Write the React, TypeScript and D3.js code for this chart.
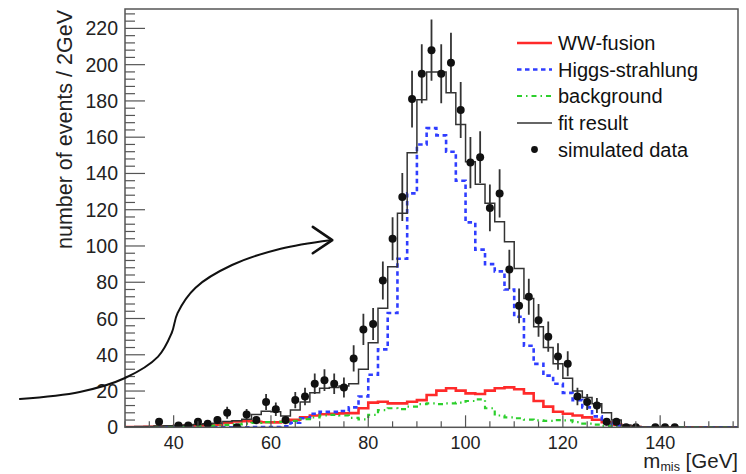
import React from "react";
import * as d3 from "d3";

// ---- histogram binning (2 GeV bins from 30 to 156 GeV) ----
const binStart = 30;
const binEnd = 156;
const binWidth = 2;

// per-bin contents, bin i covers [30 + 2i, 32 + 2i]
const wwFusion = [
  0.2, 0.2, 0.3, 0.4, 0.5, 0.7, 0.8, 1.0, 1.2, 1.5,
  2.5, 3.2, 3.3, 3.0, 2.8, 2.7, 3.0, 4.2, 5.5, 6.5,
  7.2, 7.5, 7.7, 7.8, 10.5, 13.6, 14.1, 13.2, 13.2, 14.1,
  15, 17.8, 20.2, 21.5, 20.2, 18.7, 18.4, 20.2, 21.5, 22,
  21, 18.7, 14.5, 11.4, 8.6, 7.5, 6.5, 5.5, 4.2, 2.8,
  1.5, 0.6, 0.2, 0, 0, 0, 0, 0, 0, 0, 0, 0, 0,
];
const higgsStrahlung = [
  0, 0, 0, 0, 0, 0, 0, 0, 0, 0,
  0, 0, 0, 0.1, 0.1, 0.2, 0.5, 2.5, 5, 7.5,
  8.5, 8.5, 9, 11, 17, 29, 43, 63, 93, 129,
  156, 165, 161, 152, 136, 113, 98, 90, 86, 76,
  61, 45, 35, 28.5, 24, 19, 15, 11, 6, 2.5,
  1, 0.3, 0, 0, 0, 0, 0, 0, 0, 0, 0, 0, 0,
];
const background = [
  0.1, 0.1, 0.2, 0.3, 0.4, 0.5, 0.6, 0.7, 0.8, 1.0,
  1.3, 1.6, 2.0, 2.4, 2.8, 3.0, 3.0, 3.5, 4.5, 5.5,
  6.5, 6.8, 6.5, 5.2, 4.4, 6.8, 9.5, 10.5, 10, 11.4,
  12.8, 13.2, 12.8, 13.2, 13.6, 14.5, 15.4, 10.5, 6.5, 5.5,
  5, 4.2, 3.8, 3.5, 4, 3.8, 2.8, 2, 1.5, 0.8,
  0.3, 0.1, 0, 0, 0, 0, 0, 0, 0, 0, 0, 0, 0,
];
const fitResult = [
  0.3, 0.4, 0.5, 0.7, 0.9, 1.1, 1.3, 1.6, 1.9, 2.3,
  3.2, 3.6, 4.5, 7, 8.8, 8.6, 6.3, 9.5, 14, 19,
  21.5, 22, 22.8, 24, 32, 46.6, 65.6, 88.5, 118, 151.4,
  180.6, 196, 196, 184.5, 167, 146.4, 134, 123.5, 113.3, 102.3,
  87.6, 71.1, 55.5, 44, 35, 27, 20, 16.5, 13, 8,
  4, 1.3, 0.4, 0.1, 0, 0, 0, 0, 0, 0, 0, 0, 0,
];

// simulated data points (bin centre, count, error)
const dataCenters = [
  37, 41, 43, 45, 47, 49, 51, 53, 55, 57, 59, 61, 63, 65, 67, 69, 71, 73, 75,
  77, 79, 81, 83, 85, 87, 89, 91, 93, 95, 97, 99, 101, 103, 105, 107, 109,
  111, 113, 115, 117, 119, 121, 123, 125, 127, 129, 131, 133, 135, 139, 141, 143,
];
const dataCounts = [
  3, 1, 1, 3, 2, 4, 8, 0, 7, 4, 14, 10, 4, 15, 17, 24, 26, 24, 22,
  38, 54, 57, 81, 104, 127, 181, 195, 208, 195, 201, 175, 146, 149, 121, 129, 87,
  67, 72, 59, 50, 39, 35, 17, 14, 12, 3, 3, 0, 0, 0, 0, 0,
];
const dataErrors = [
  2.0, 1.2, 1.2, 2.0, 1.7, 2.3, 3.3, 0, 3.1, 2.3, 4.4, 3.7, 2.3, 4.5, 4.8, 5.7, 6.0, 5.7, 5.5,
  7.2, 8.6, 8.8, 10.5, 11.9, 13.2, 15.7, 16.3, 16.9, 16.3, 16.6, 15.5, 14.1, 14.3, 12.9, 13.3, 10.9,
  9.6, 9.9, 9.0, 8.3, 7.3, 6.9, 4.8, 4.4, 4.1, 2.0, 2.0, 0, 0, 0, 0, 0,
];

const xTicks = [40, 60, 80, 100, 120, 140];
const yTicks = [0, 20, 40, 60, 80, 100, 120, 140, 160, 180, 200, 220];
const yMax = 230.7;

const legendLabels = ["WW-fusion", "Higgs-strahlung", "background", "fit result", "simulated data"];

// hand-drawn annotation arrow, in data units (m, events)
const arrowCurve: [number, number][] = [
  [8.4, 15.6], [20.7, 19.5], [30, 27.2], [36.8, 39], [39.6, 52],
  [40.8, 63], [44.5, 77], [52, 89.5], [62, 98.5], [72.2, 103.2],
];
const arrowHead: [number, number][] = [[68.6, 110.5], [72.6, 103.2], [68.6, 96]];

const FONT = "'Liberation Sans', Arial, Helvetica, sans-serif";

export default function App() {
  const W = 746;
  const H = 474;
  const left = 125;
  const right = 738;
  const top = 9;
  const bottom = 427.3;

  const x = d3.scaleLinear().domain([binStart, binEnd]).range([left, right]);
  const y = d3.scaleLinear().domain([0, yMax]).range([bottom, top]);

  const step = d3
    .line<[number, number]>()
    .x((d) => x(d[0]))
    .y((d) => y(d[1]))
    .curve(d3.curveStepAfter);

  const stepPath = (vals: number[]) => {
    const pts: [number, number][] = vals.map((v, i) => [binStart + i * binWidth, v]);
    pts.push([binEnd, vals[vals.length - 1]]);
    return step(pts) || "";
  };

  const xMinor = d3.range(binStart, binEnd + 0.01, 5).filter((v) => v % 20 !== 0);
  const yMinor = d3.range(0, yMax, 4).filter((v) => v % 20 !== 0);

  const curve = d3
    .line<[number, number]>()
    .x((d) => x(d[0]))
    .y((d) => y(d[1]))
    .curve(d3.curveCatmullRom.alpha(0.5));
  const straight = d3
    .line<[number, number]>()
    .x((d) => x(d[0]))
    .y((d) => y(d[1]));

  const frameColor = "#555";
  const red = "#ff2a2a";
  const blue = "#2f3dff";
  const green = "#2ccf2c";
  const black = "#333";

  const legendX0 = 517;
  const legendX1 = 552;
  const legendTextX = 558;
  const legendRows = [43, 69.5, 96, 123, 149.5];

  const series = [
    { vals: wwFusion, color: red, width: 2.6, dash: undefined as string | undefined },
    { vals: higgsStrahlung, color: blue, width: 2.6, dash: "4.5,3.5" },
    { vals: background, color: green, width: 2.2, dash: "5,4,1.5,4" },
    { vals: fitResult, color: black, width: 1.5, dash: undefined },
  ];

  return (
    <div style={{ position: "absolute", left: 0, top: 0 }}>
      <svg width={W} height={H} viewBox={`0 0 ${W} ${H}`} style={{ display: "block", background: "#fff" }}>
        <defs>
          <clipPath id="plotclip">
            <rect x={left} y={top} width={right - left} height={bottom - top} />
          </clipPath>
        </defs>

        {/* histograms */}
        <g clipPath="url(#plotclip)">
          {series.map((s, i) => (
            <path
              key={i}
              d={stepPath(s.vals)}
              fill="none"
              stroke={s.color}
              strokeWidth={s.width}
              strokeDasharray={s.dash}
              strokeLinejoin="miter"
            />
          ))}
          {/* data error bars and markers */}
          {dataCenters.map((c, i) => (
            <g key={`d${i}`}>
              {dataErrors[i] > 0 && (
                <line
                  x1={x(c)}
                  x2={x(c)}
                  y1={y(dataCounts[i] - dataErrors[i])}
                  y2={y(dataCounts[i] + dataErrors[i])}
                  stroke={black}
                  strokeWidth={1.8}
                />
              )}
              <circle cx={x(c)} cy={y(dataCounts[i])} r={4} fill="#111" />
            </g>
          ))}
        </g>

        {/* frame */}
        <rect x={left} y={top} width={right - left} height={bottom - top} fill="none" stroke={frameColor} strokeWidth={1.5} />

        {/* x axis ticks */}
        {xTicks.map((t) => (
          <g key={`xt${t}`}>
            <line x1={x(t)} x2={x(t)} y1={bottom} y2={bottom - 12} stroke={frameColor} strokeWidth={1.2} />
            <text x={x(t)} y={449} textAnchor="middle" fontFamily={FONT} fontSize={18} fill="#222">
              {t}
            </text>
          </g>
        ))}
        {xMinor.map((t) => (
          <line key={`xm${t}`} x1={x(t)} x2={x(t)} y1={bottom} y2={bottom - 6} stroke={frameColor} strokeWidth={1.2} />
        ))}

        {/* y axis ticks */}
        {yTicks.map((t) => (
          <g key={`yt${t}`}>
            <line x1={left} x2={left + 20} y1={y(t)} y2={y(t)} stroke={frameColor} strokeWidth={1.2} />
            <text x={118} y={y(t)} dy="0.36em" textAnchor="end" fontFamily={FONT} fontSize={19.5} fill="#222">
              {t}
            </text>
          </g>
        ))}
        {yMinor.map((t) => (
          <line key={`ym${t}`} x1={left} x2={left + 10} y1={y(t)} y2={y(t)} stroke={frameColor} strokeWidth={1.2} />
        ))}

        {/* axis titles */}
        <text
          transform={`translate(72, ${top + 1}) rotate(-90)`}
          textAnchor="end"
          fontFamily={FONT}
          fontSize={21.5}
          fill="#222"
        >
          number of events / 2GeV
        </text>
        <text x={right} y={468} textAnchor="end" fontFamily={FONT} fontSize={20.5} fill="#222">
          m
          <tspan fontSize={12.5} dy={3}>
            mis
          </tspan>
          <tspan dy={-3}> [GeV]</tspan>
        </text>

        {/* legend */}
        <g fontFamily={FONT} fontSize={20} fill="#111">
          <line x1={legendX0} x2={legendX1} y1={legendRows[0]} y2={legendRows[0]} stroke={red} strokeWidth={2.6} />
          <line x1={legendX0} x2={legendX1} y1={legendRows[1]} y2={legendRows[1]} stroke={blue} strokeWidth={2.6} strokeDasharray="4.5,3.5" />
          <line x1={legendX0} x2={legendX1} y1={legendRows[2]} y2={legendRows[2]} stroke={green} strokeWidth={2.2} strokeDasharray="5,4,1.5,4" />
          <line x1={legendX0} x2={legendX1} y1={legendRows[3]} y2={legendRows[3]} stroke={black} strokeWidth={1.6} />
          <circle cx={(legendX0 + legendX1) / 2} cy={legendRows[4]} r={3.4} fill="#111" />
          {legendLabels.map((l, i) => (
            <text key={l} x={legendTextX} y={legendRows[i]} dy="0.35em">
              {l}
            </text>
          ))}
        </g>

        {/* hand-drawn annotation arrow */}
        <path d={curve(arrowCurve) || ""} fill="none" stroke="#111" strokeWidth={2} strokeLinecap="round" />
        <path d={straight(arrowHead) || ""} fill="none" stroke="#111" strokeWidth={2.6} strokeLinecap="round" strokeLinejoin="round" />
      </svg>
    </div>
  );
}
